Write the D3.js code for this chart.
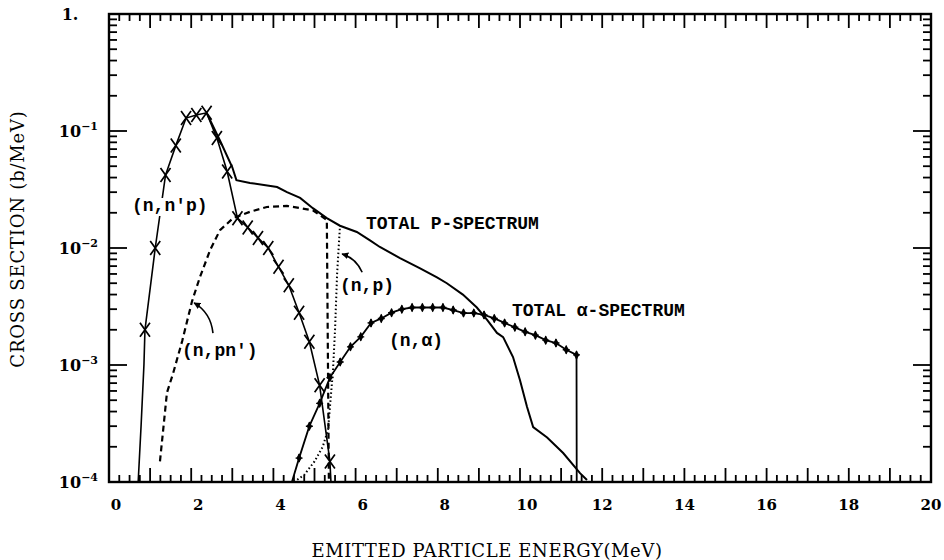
<!DOCTYPE html>
<html>
<head>
<meta charset="utf-8">
<script src="https://cdn.jsdelivr.net/npm/d3@7"></script>
<style>
  body { margin: 0; background: #fff; }
  svg { display: block; }
</style>
</head>
<body>
<script>
// ---- data (energy in MeV, cross section in b/MeV) ----
const nnpE   = [0.71, 0.78, 0.85, 0.875, 1.125, 1.375, 1.625, 1.875, 2.125, 2.375, 2.625, 2.875, 3.125, 3.375, 3.625, 3.875, 4.125, 4.375, 4.625, 4.875, 5.125, 5.375, 5.40];
const nnpSig = [1e-4, 3e-4, 1.0e-3, 2.0e-3, 1.0e-2, 4.2e-2, 7.5e-2, 0.129, 0.137, 0.143, 0.087, 0.045, 0.018, 0.015, 0.0122, 0.0100, 6.9e-3, 4.8e-3, 2.8e-3, 1.58e-3, 6.7e-4, 1.5e-4, 1e-4];
// X markers sit on every point except the end points of the line
const nnpMarkE = nnpE.slice(3, 22);
const nnpMarkSig = nnpSig.slice(3, 22);

const totPE   = [2.375, 2.70, 3.00, 3.10, 3.43, 4.09, 4.33, 4.65, 4.96, 5.30, 5.62, 6.03, 6.35, 6.59, 7.08, 7.57, 7.98, 8.22, 8.61, 8.95, 9.20, 9.44, 9.59, 9.83, 10.0, 10.17, 10.32, 10.66, 11.05, 11.46, 11.63];
const totPSig = [0.143, 0.083, 0.049, 0.038, 0.036, 0.0332, 0.030, 0.0268, 0.0219, 0.0180, 0.0155, 0.0137, 0.0116, 0.0102, 0.0082, 0.0067, 0.0056, 0.0050, 0.0040, 0.0031, 0.00243, 0.00188, 0.00173, 0.00117, 7.4e-4, 4.4e-4, 2.95e-4, 2.4e-4, 1.77e-4, 1.19e-4, 1.04e-4];

const npnE   = [1.24, 1.41, 1.56, 1.78, 2.02, 2.21, 2.46, 2.70, 3.02, 3.43, 3.84, 4.33, 4.65, 4.96, 5.30, 5.35];
const npnSig = [1.5e-4, 5.8e-4, 8.5e-4, 1.6e-3, 3.5e-3, 5.6e-3, 9.6e-3, 1.42e-2, 1.8e-2, 2.04e-2, 2.24e-2, 2.29e-2, 2.19e-2, 2.1e-2, 1.74e-2, 1e-4];

const npE   = [4.50, 4.75, 5.00, 5.20, 5.33, 5.45, 5.50, 5.55, 5.62];
const npSig = [1e-4, 1.15e-4, 1.5e-4, 2.0e-4, 2.8e-4, 9e-4, 2e-3, 6e-3, 1.55e-2];

const naE   = [4.45, 4.625, 4.875, 5.125, 5.375, 5.625, 5.875, 6.125, 6.375, 6.625, 6.875, 7.125, 7.375, 7.625, 7.875, 8.125, 8.375, 8.625, 8.875, 9.125, 9.375, 9.625, 9.875, 10.125, 10.375, 10.625, 10.875, 11.125, 11.375, 11.38];
const naSig = [1e-4, 1.6e-4, 3.0e-4, 4.7e-4, 7.8e-4, 1.06e-3, 1.43e-3, 1.74e-3, 2.29e-3, 2.5e-3, 2.8e-3, 3.0e-3, 3.1e-3, 3.1e-3, 3.1e-3, 3.1e-3, 2.95e-3, 2.78e-3, 2.78e-3, 2.68e-3, 2.5e-3, 2.29e-3, 2.1e-3, 1.92e-3, 1.8e-3, 1.63e-3, 1.54e-3, 1.35e-3, 1.22e-3, 1e-4];
const naMarkE = naE.slice(1, 29);
const naMarkSig = naSig.slice(1, 29);

const xLabelTicks = [0, 2, 4, 6, 8, 10, 12, 14, 16, 18, 20];
const yDecades = [-4, -3, -2, -1, 0];

// annotation arrows in data space: [start, control, end]
const arrowPn = [[2.53, 1.87e-3], [2.48, 2.8e-3], [2.07, 3.4e-3]];
const arrowP  = [[6.16, 6.2e-3], [6.01, 8.2e-3], [5.67, 8.9e-3]];

// ---- drawing ----
const W = 944, H = 560;
const mLeft = 109, mRight = 931, mTop = 14, mBottom = 482;

const svg = d3.select("body").append("svg")
  .attr("width", W).attr("height", H);

const x = d3.scaleLinear().domain([0, 20]).range([mLeft, mRight]);
const y = d3.scaleLog().domain([1e-4, 1]).range([mBottom, mTop]);

const serif = "'DejaVu Serif', 'Liberation Serif', serif";
const mono = "'Liberation Mono', 'DejaVu Sans Mono', monospace";

svg.append("defs").append("marker")
  .attr("id", "head")
  .attr("viewBox", "0 0 10 10")
  .attr("refX", 9).attr("refY", 5)
  .attr("markerWidth", 7).attr("markerHeight", 7)
  .attr("markerUnits", "userSpaceOnUse")
  .attr("orient", "auto")
  .append("path").attr("d", "M0,0 L10,5 L0,10 Z").attr("fill", "#000");

// frame
svg.append("rect")
  .attr("x", mLeft).attr("y", mTop)
  .attr("width", mRight - mLeft).attr("height", mBottom - mTop)
  .attr("fill", "none").attr("stroke", "#000").attr("stroke-width", 2.4);

// tick labels
svg.append("g").selectAll("text").data(xLabelTicks).join("text")
  .attr("x", d => x(d) + (d <= 10 ? 7 : 0)).attr("y", mBottom + 28)
  .attr("text-anchor", "middle")
  .attr("font-family", serif).attr("font-size", 15).attr("font-weight", "bold")
  .text(d => d);

const yl = svg.append("g").selectAll("text").data(yDecades).join("text")
  .attr("font-family", serif).attr("font-size", 16).attr("font-weight", "bold")
  .attr("y", d => y(Math.pow(10, d)) + 6);
yl.filter(d => d === 0)
  .attr("x", 70).attr("text-anchor", "middle").text("1.");
yl.filter(d => d !== 0).each(function (d) {
  const t = d3.select(this).attr("x", 98).attr("text-anchor", "end");
  t.append("tspan").text("10");
  t.append("tspan").attr("font-size", 11).attr("dy", -7).text("\u2212" + (-d));
});

// axis titles
svg.append("text")
  .attr("x", 487).attr("y", 557)
  .attr("text-anchor", "middle")
  .attr("font-family", serif).attr("font-size", 18).attr("letter-spacing", 0.6)
  .text("EMITTED PARTICLE ENERGY(MeV)");

svg.append("text")
  .attr("transform", "translate(24,239) rotate(-90)")
  .attr("text-anchor", "middle")
  .attr("font-family", serif).attr("font-size", 18).attr("letter-spacing", 0.8)
  .text("CROSS SECTION (b/MeV)");

// curves
const line = (xs, ys) => d3.line().x(i => x(xs[i])).y(i => y(ys[i]))(d3.range(xs.length));
const plot = svg.append("g").attr("fill", "none").attr("stroke", "#000");

plot.append("path").attr("d", line(npnE, npnSig))
  .attr("stroke-width", 2.2).attr("stroke-dasharray", "6,4");
plot.append("path").attr("d", line(npE, npSig))
  .attr("stroke-width", 2).attr("stroke-dasharray", "1.5,2.5");
plot.append("path").attr("d", line(nnpE, nnpSig)).attr("stroke-width", 1.6);
plot.append("path").attr("d", line(totPE, totPSig)).attr("stroke-width", 2);
plot.append("path").attr("d", line(naE, naSig)).attr("stroke-width", 1.8);

// X markers on (n,n'p)
svg.append("g").selectAll("path").data(d3.range(nnpMarkE.length)).join("path")
  .attr("transform", i => `translate(${x(nnpMarkE[i])},${y(nnpMarkSig[i])})`)
  .attr("d", "M-5,-7L5,7M-5,7L5,-7")
  .attr("stroke", "#000").attr("stroke-width", 1.7).attr("fill", "none");

// filled markers on (n,alpha)
const naMarks = svg.append("g").selectAll("g").data(d3.range(naMarkE.length)).join("g")
  .attr("transform", i => `translate(${x(naMarkE[i])},${y(naMarkSig[i])})`);
naMarks.append("path").attr("d", d3.symbol(d3.symbolDiamond, 26)).attr("fill", "#000");
naMarks.append("path").attr("d", "M0,-4L0,4M-3.5,0L3.5,0").attr("stroke", "#000").attr("stroke-width", 1.4);

// arrows
const arrowPath = a => `M${x(a[0][0])},${y(a[0][1])}Q${x(a[1][0])},${y(a[1][1])} ${x(a[2][0])},${y(a[2][1])}`;
[arrowPn, arrowP].forEach(a => {
  svg.append("path").attr("d", arrowPath(a))
    .attr("fill", "none").attr("stroke", "#000").attr("stroke-width", 1.6)
    .attr("marker-end", "url(#head)");
});

// curve labels
const labels = [
  { t: "(n,n'p)", x: 132, y: 211, bg: true },
  { t: "(n,pn')", x: 182, y: 356, bg: false },
  { t: "TOTAL P-SPECTRUM", x: 366, y: 229, bg: false },
  { t: "(n,p)", x: 340, y: 291, bg: false },
  { t: "TOTAL \u03b1-SPECTRUM", x: 512, y: 316, bg: false },
  { t: "(n,\u03b1)", x: 389, y: 346, bg: false }
];
const labelG = svg.append("g");
labels.forEach(l => {
  const t = labelG.append("text")
    .attr("x", l.x).attr("y", l.y)
    .attr("font-family", mono).attr("font-size", 18).attr("font-weight", "bold")
    .text(l.t);
  if (l.bg) {
    const b = t.node().getBBox();
    labelG.insert("rect", () => t.node())
      .attr("x", b.x - 2).attr("y", b.y + 2).attr("width", b.width + 4).attr("height", b.height - 2)
      .attr("fill", "#fff");
  }
});

// ticks, all pointing inward, drawn last as thin filled rectangles
const xTicks = d3.range(0, 81).map(i => i * 0.25);
const yTicks = [];
yDecades.slice(0, 4).forEach(e => { for (let m = 1; m <= 9; m++) yTicks.push(m * Math.pow(10, e)); });
yTicks.push(1);
const isInt = v => Math.abs(v - Math.round(v)) < 1e-6;
const isDecade = v => isInt(Math.log10(v));
const tw = 1.8;

const tickG = svg.append("g").attr("fill", "#000");
tickG.selectAll(".tb").data(xTicks).join("rect").attr("class", "tb")
  .attr("x", d => x(d) - tw / 2).attr("width", tw)
  .attr("y", d => mBottom - (isInt(d) ? 14 : 7)).attr("height", d => isInt(d) ? 14 : 7);
tickG.selectAll(".tt").data(xTicks).join("rect").attr("class", "tt")
  .attr("x", d => x(d) - tw / 2).attr("width", tw)
  .attr("y", mTop).attr("height", d => isInt(d) ? 14 : 7);
tickG.selectAll(".tl").data(yTicks).join("rect").attr("class", "tl")
  .attr("y", d => y(d) - tw / 2).attr("height", tw)
  .attr("x", mLeft).attr("width", d => isDecade(d) ? 18 : 8);
tickG.selectAll(".tr").data(yTicks).join("rect").attr("class", "tr")
  .attr("y", d => y(d) - tw / 2).attr("height", tw)
  .attr("x", d => mRight - (isDecade(d) ? 18 : 8)).attr("width", d => isDecade(d) ? 18 : 8);
</script>
</body>
</html>
